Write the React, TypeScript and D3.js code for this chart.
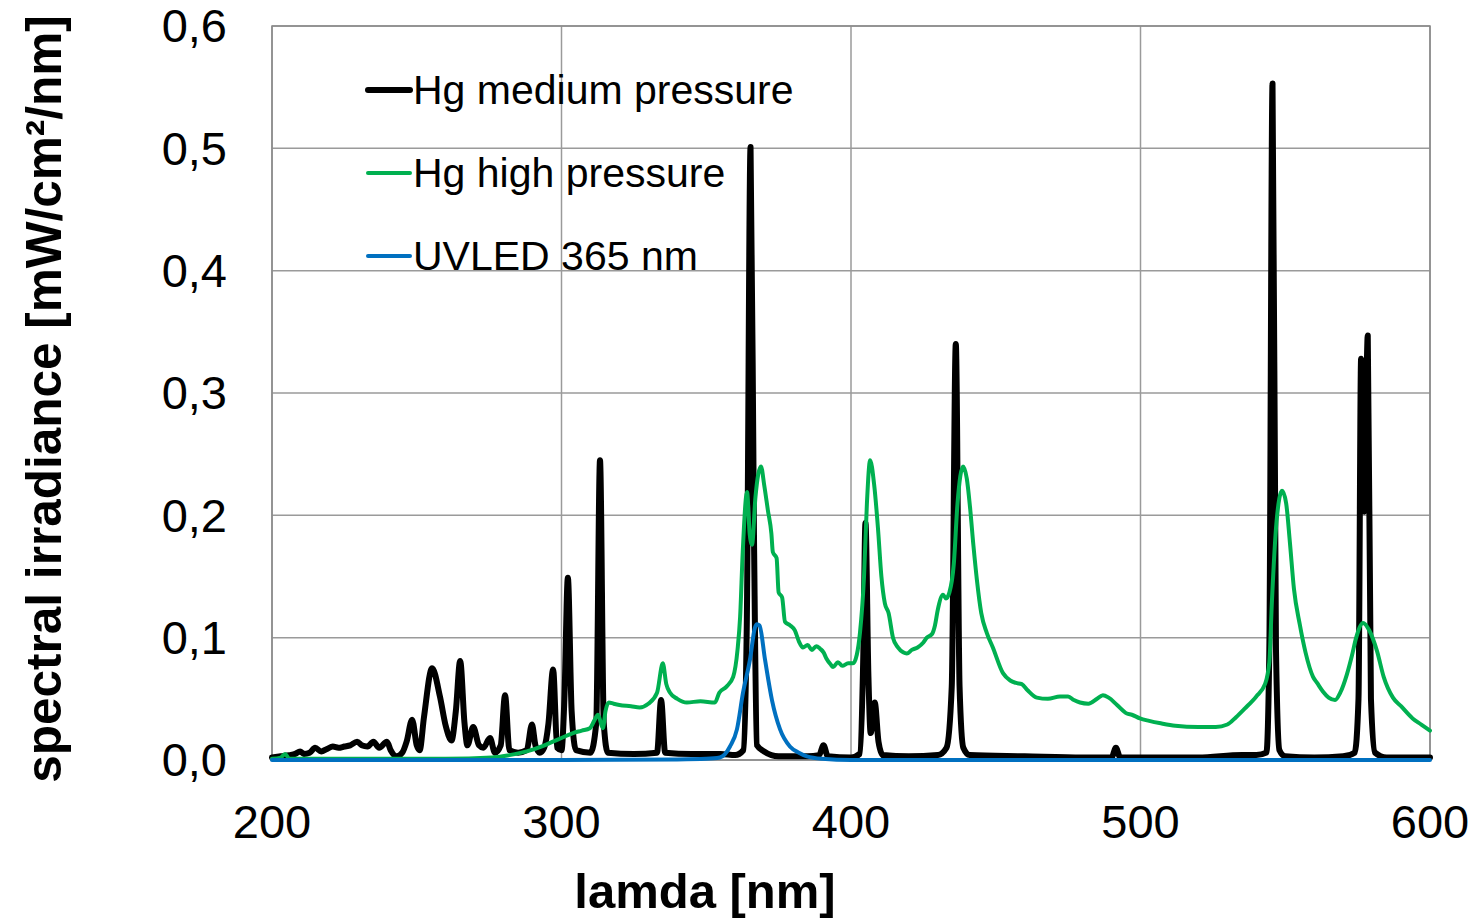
import React from 'react';
import * as d3 from 'd3';

// wavelength [nm] / spectral irradiance [mW/cm2/nm]
const hgMediumNm = [200, 203, 206, 208, 209.7, 211, 213, 214.9, 217, 219, 221, 223, 225, 227, 229.4, 231, 233, 235, 237, 239.7, 241, 243, 245, 246.5, 248.4, 250, 251, 252.5, 255.3, 258, 260, 262, 263.5, 265, 266.5, 267.5, 269.5, 271.5, 273, 275.3, 277, 279, 280.5, 282, 285, 288, 289.8, 291, 292.5, 294, 295.5, 297.1, 298.5, 300, 301, 302.2, 303.5, 305, 310, 312, 313.3, 314.6, 316, 325, 333, 334.4, 335.8, 345, 355, 360, 362.8, 364, 365.3, 366.5, 367.5, 370, 375, 385, 389, 390.5, 392, 400, 403, 404.2, 405, 406, 406.8, 408.2, 409.5, 411, 420, 430, 433, 434.8, 436.2, 437.5, 438.8, 441, 460, 480, 490, 491.5, 493, 500, 520, 535, 540, 543.5, 544.5, 545.6, 546.8, 548, 550, 560, 570, 574, 575.3, 576.2, 577.3, 578.5, 579.6, 581, 585, 600];
const hgMediumVal = [0.002, 0.003, 0.004, 0.005, 0.007, 0.005, 0.006, 0.010, 0.007, 0.009, 0.011, 0.010, 0.011, 0.012, 0.015, 0.012, 0.011, 0.015, 0.010, 0.015, 0.008, 0.003, 0.006, 0.015, 0.033, 0.012, 0.008, 0.035, 0.075, 0.052, 0.028, 0.016, 0.040, 0.081, 0.030, 0.012, 0.027, 0.012, 0.010, 0.018, 0.006, 0.012, 0.053, 0.008, 0.006, 0.008, 0.029, 0.012, 0.006, 0.010, 0.030, 0.074, 0.010, 0.008, 0.050, 0.149, 0.040, 0.008, 0.006, 0.030, 0.245, 0.030, 0.006, 0.005, 0.006, 0.049, 0.006, 0.005, 0.005, 0.004, 0.008, 0.110, 0.501, 0.180, 0.012, 0.007, 0.003, 0.003, 0.004, 0.012, 0.003, 0.002, 0.005, 0.080, 0.194, 0.070, 0.022, 0.047, 0.015, 0.004, 0.003, 0.004, 0.010, 0.060, 0.340, 0.060, 0.010, 0.004, 0.003, 0.002, 0.002, 0.010, 0.002, 0.002, 0.002, 0.004, 0.004, 0.006, 0.090, 0.553, 0.090, 0.008, 0.003, 0.002, 0.003, 0.006, 0.050, 0.328, 0.203, 0.347, 0.050, 0.006, 0.002, 0.002];

const hgHighNm = [200, 203, 204.5, 206, 220, 240, 260, 276, 282, 288, 293, 297, 300, 304, 307, 309.8, 311.5, 312.6, 314.3, 315.2, 316.3, 318, 320, 324, 327, 330, 333, 335, 336.2, 337.5, 340, 343.3, 348, 353, 354.5, 357, 359.3, 360.8, 361.7, 362.6, 364.1, 365, 365.8, 367, 368.9, 370, 371.3, 372.5, 373, 374.3, 375, 376.2, 377.2, 379, 380.6, 382, 383.4, 385, 386.5, 388, 389.3, 390.5, 391.5, 393, 393.8, 395.5, 397, 399, 400.7, 402, 403.1, 404.5, 405.5, 406.6, 408, 409.3, 410.5, 411.7, 413, 414.5, 416.2, 418, 419.3, 421, 423, 425, 426.2, 428, 429, 430, 431.8, 432.8, 434, 435.5, 436.8, 438.7, 440, 441.1, 442.3, 443.5, 445, 446.9, 449, 452.5, 455, 457, 459, 461, 464.2, 468, 472.2, 475, 477, 479.1, 482, 485, 487, 489, 491.9, 495.3, 497, 499.8, 503, 507, 512, 520, 526, 530, 533, 536, 540, 543, 544.5, 545.4, 547, 548.9, 550.3, 551.6, 553, 555, 557, 559.6, 561, 563, 565, 567.2, 569, 571.3, 573, 574.5, 576.9, 579, 581.7, 584, 587.2, 590, 594, 597, 600];
const hgHighVal = [0.001, 0.002, 0.005, 0.001, 0.001, 0.001, 0.001, 0.002, 0.004, 0.007, 0.011, 0.015, 0.018, 0.022, 0.024, 0.026, 0.033, 0.037, 0.026, 0.040, 0.047, 0.046, 0.045, 0.044, 0.043, 0.046, 0.055, 0.079, 0.062, 0.055, 0.050, 0.047, 0.048, 0.047, 0.055, 0.060, 0.068, 0.090, 0.117, 0.170, 0.219, 0.185, 0.176, 0.215, 0.240, 0.225, 0.204, 0.185, 0.170, 0.165, 0.137, 0.133, 0.113, 0.110, 0.106, 0.097, 0.092, 0.094, 0.090, 0.093, 0.091, 0.088, 0.083, 0.078, 0.076, 0.080, 0.077, 0.079, 0.079, 0.086, 0.104, 0.150, 0.210, 0.245, 0.225, 0.190, 0.150, 0.128, 0.120, 0.100, 0.092, 0.088, 0.087, 0.090, 0.092, 0.096, 0.100, 0.103, 0.110, 0.123, 0.135, 0.132, 0.137, 0.160, 0.210, 0.240, 0.230, 0.207, 0.175, 0.147, 0.120, 0.104, 0.092, 0.071, 0.065, 0.063, 0.062, 0.057, 0.051, 0.050, 0.052, 0.052, 0.049, 0.047, 0.046, 0.050, 0.053, 0.051, 0.045, 0.038, 0.037, 0.034, 0.032, 0.030, 0.028, 0.027, 0.027, 0.029, 0.035, 0.042, 0.052, 0.062, 0.080, 0.130, 0.195, 0.220, 0.210, 0.178, 0.140, 0.111, 0.088, 0.068, 0.063, 0.056, 0.051, 0.049, 0.055, 0.070, 0.085, 0.100, 0.112, 0.106, 0.089, 0.068, 0.051, 0.044, 0.034, 0.029, 0.024];

const uvledNm = [200, 250, 300, 340, 350, 354.7, 358.2, 360.6, 362.7, 365.1, 366.8, 367.5, 368.4, 370.3, 372.7, 375.5, 378.9, 382, 384.8, 390, 400, 500, 600];
const uvledVal = [0, 0, 0, 0.0005, 0.001, 0.002, 0.011, 0.025, 0.055, 0.082, 0.108, 0.111, 0.110, 0.082, 0.049, 0.025, 0.011, 0.006, 0.003, 0.001, 0, 0, 0];

const seriesNames = ['Hg medium pressure', 'Hg high pressure', 'UVLED 365 nm'];
const xTicks = [200, 300, 400, 500, 600];
const yTicks = [0, 0.1, 0.2, 0.3, 0.4, 0.5, 0.6];

const W = 1478;
const H = 918;
const FONT = "Arial, 'Liberation Sans', sans-serif";

const App = () => {
	const x = d3.scaleLinear().domain([200, 600]).range([272, 1430]);
	const y = d3.scaleLinear().domain([0, 0.6]).range([760, 26]);

	const line = d3.line<[number, number]>()
		.x(d => x(d[0]))
		.y(d => y(d[1]))
		.curve(d3.curveMonotoneX);

	const zip = (a: number[], b: number[]) => a.map((v, i) => [v, b[i]] as [number, number]);

	const series = [
		{ name: seriesNames[0], data: zip(hgMediumNm, hgMediumVal), color: '#000000', width: 6 },
		{ name: seriesNames[1], data: zip(hgHighNm, hgHighVal), color: '#00B050', width: 4 },
		{ name: seriesNames[2], data: zip(uvledNm, uvledVal), color: '#0070C0', width: 4 },
	];

	const fmt = (v: number) => d3.format('.1f')(v).replace('.', ',');

	return (
		<svg width={W} height={H} style={{ position: 'absolute', left: 0, top: 0, background: '#fff' }} fontFamily={FONT}>
			{/* grid */}
			{yTicks.map(t => (
				<line key={'gy' + t} x1={x(200)} x2={x(600)} y1={y(t)} y2={y(t)} stroke="#9a9a9a" strokeWidth={1.5} />
			))}
			{xTicks.map(t => (
				<line key={'gx' + t} x1={x(t)} x2={x(t)} y1={y(0)} y2={y(0.6)} stroke="#9a9a9a" strokeWidth={1.5} />
			))}
			<rect x={x(200)} y={y(0.6)} width={x(600) - x(200)} height={y(0) - y(0.6)} fill="none" stroke="#8a8a8a" strokeWidth={1.5} />

			{/* series */}
			{series.map(s => (
				<path key={s.name} d={line(s.data) || ''} fill="none" stroke={s.color} strokeWidth={s.width}
					strokeLinejoin="round" strokeLinecap="round" />
			))}

			{/* tick labels */}
			{yTicks.map(t => (
				<text key={'ty' + t} x={227} y={y(t)} dy="0.35em" textAnchor="end" fontSize={47}>{fmt(t)}</text>
			))}
			{xTicks.map(t => (
				<text key={'tx' + t} x={x(t)} y={838} textAnchor="middle" fontSize={47}>{t}</text>
			))}

			{/* axis titles */}
			<text x={705} y={908} textAnchor="middle" fontSize={49} fontWeight="bold">lamda [nm]</text>
			<text transform="translate(61,399) rotate(-90)" textAnchor="middle" fontSize={49.5} fontWeight="bold">spectral irradiance [mW/cm²/nm]</text>

			{/* legend */}
			{series.map((s, i) => (
				<g key={'lg' + i} transform={`translate(368,${90 + i * 83})`}>
					<line x1={0} x2={42} y1={0} y2={0} stroke={s.color} strokeWidth={s.width} strokeLinecap="round" />
					<text x={45} y={14} fontSize={41}>{s.name}</text>
				</g>
			))}
		</svg>
	);
};

export default App;
